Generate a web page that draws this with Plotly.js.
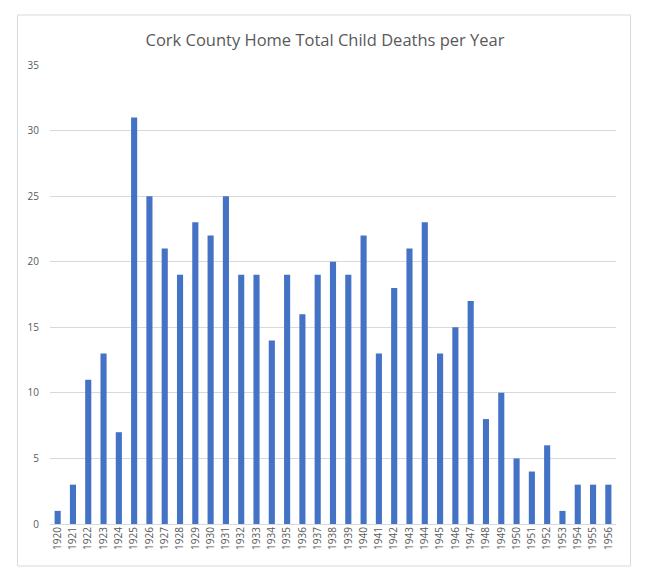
<!DOCTYPE html>
<html>
<head>
<meta charset="utf-8">
<script src="https://cdn.plot.ly/plotly-3.0.1.min.js"></script>
<style>html,body{margin:0;padding:0;background:#fff;}#chart{width:650px;height:581px;}</style>
</head>
<body>
<div id="chart"></div>
<script>
var years = ["1920","1921","1922","1923","1924","1925","1926","1927","1928","1929","1930","1931","1932","1933","1934","1935","1936","1937","1938","1939","1940","1941","1942","1943","1944","1945","1946","1947","1948","1949","1950","1951","1952","1953","1954","1955","1956"];
var deaths = [1,3,11,13,7,31,25,21,19,23,22,25,19,19,14,19,16,19,20,19,22,13,18,21,23,13,15,17,8,10,5,4,6,1,3,3,3];
var yTicks = [0,5,10,15,20,25,30,35];

var L = 49.5, R = 616.5, T = 65, B = 524;
var W = R - L, H = B - T;
function px(x){ return (x - L) / W; }
function py(y){ return (B - y) / H; }

var trace = {
  type: 'bar', x: years, y: deaths,
  marker: {color: '#4472C4'},
  hoverinfo: 'x+y'
};
var layout = {
  width: 650, height: 581,
  margin: {l: L, r: 650 - R, t: T, b: 581 - B},
  paper_bgcolor: '#fff', plot_bgcolor: '#fff',
  bargap: 0.6,
  showlegend: false,
  font: {family: 'Open Sans, sans-serif', color: '#595959'},
  title: {text: 'Cork County Home Total Child Deaths per Year',
          font: {size: 16.5, color: '#595959', family: 'Open Sans, sans-serif'},
          x: 0.5, xanchor: 'center', y: 1 - 40/581, yanchor: 'middle', yref: 'container'},
  xaxis: {type: 'category', tickangle: -90, tickfont: {size: 10, color: '#595959'},
          showgrid: false, zeroline: false, showline: false, ticks: '', ticklen: 0},
  yaxis: {range: [0, 35], tickvals: yTicks, ticktext: yTicks.map(String),
          tickfont: {size: 10, color: '#595959'}, showgrid: true, gridcolor: '#d9d9d9',
          gridwidth: 1, zeroline: true, zerolinecolor: '#d9d9d9', zerolinewidth: 1,
          showline: false, ticks: '', ticklabelstandoff: 10},
  shapes: [{type: 'rect', xref: 'paper', yref: 'paper',
            x0: px(17), x1: px(631), y0: py(566), y1: py(15),
            line: {color: '#d9d9d9', width: 1}, fillcolor: 'rgba(0,0,0,0)', layer: 'below'}]
};
Plotly.newPlot('chart', [trace], layout, {displayModeBar: false, staticPlot: true});
</script>
</body>
</html>
